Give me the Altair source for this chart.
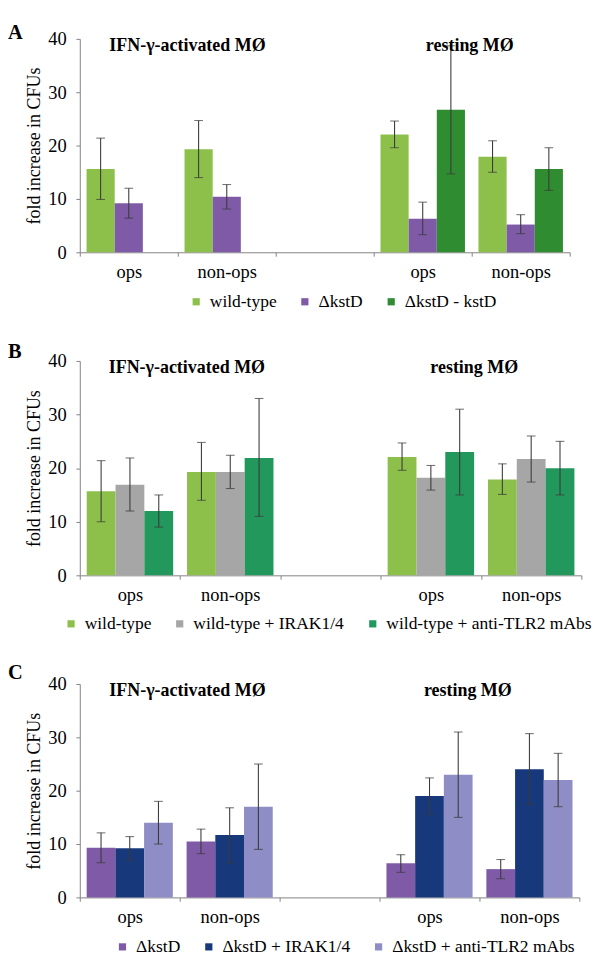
import altair as alt
import pandas as pd

FONT = "Liberation Serif"

# x slots (third one is an empty spacer between the two macrophage groups)
SLOTS = ["IFN|ops", "IFN|non-ops", "gap", "rest|ops", "rest|non-ops"]
DATA_SLOTS = ["IFN|ops", "IFN|non-ops", "rest|ops", "rest|non-ops"]
GROUP_TITLES = ["IFN-γ-activated MØ", "resting MØ"]

# ---------------- Panel A ----------------
A_SERIES = ["wild-type", "ΔkstD", "ΔkstD - kstD"]
A_COLORS = ["#8dc04b", "#7f5ba7", "#2f8c31"]
A_WT = [15.6, 19.3, 22.1, 17.9]
A_WT_LO = [9.9, 14.0, 19.6, 15.0]
A_WT_HI = [21.4, 24.7, 24.6, 20.9]
A_KO = [9.2, 10.4, 6.3, 5.2]
A_KO_LO = [6.4, 8.1, 3.3, 3.5]
A_KO_HI = [12.0, 12.7, 9.4, 7.05]
A_CO = [None, None, 26.7, 15.6]
A_CO_LO = [None, None, 14.7, 11.6]
A_CO_HI = [None, None, 38.7, 19.6]

# ---------------- Panel B ----------------
B_SERIES = ["wild-type", "wild-type + IRAK1/4", "wild-type + anti-TLR2 mAbs"]
B_COLORS = ["#8dc04b", "#a6a6a6", "#22985c"]
B_WT = [15.7, 19.3, 22.1, 17.9]
B_WT_LO = [10.0, 14.0, 19.6, 15.1]
B_WT_HI = [21.4, 24.8, 24.7, 20.8]
B_IR = [16.9, 19.3, 18.2, 21.7]
B_IR_LO = [12.0, 16.2, 15.9, 17.4]
B_IR_HI = [21.9, 22.4, 20.5, 26.0]
B_TL = [12.0, 21.9, 23.0, 20.0]
B_TL_LO = [9.0, 11.0, 15.0, 15.0]
B_TL_HI = [15.0, 33.0, 31.0, 25.0]

# ---------------- Panel C ----------------
C_SERIES = ["ΔkstD", "ΔkstD + IRAK1/4", "ΔkstD + anti-TLR2 mAbs"]
C_COLORS = ["#7f5ba7", "#17387a", "#8e8dc5"]
C_KO = [9.3, 10.5, 6.4, 5.3]
C_KO_LO = [6.5, 8.2, 4.7, 3.5]
C_KO_HI = [12.1, 12.8, 8.0, 7.1]
C_IR = [9.2, 11.7, 19.0, 24.0]
C_IR_LO = [7.0, 6.5, 15.6, 17.4]
C_IR_HI = [11.4, 16.8, 22.4, 30.7]
C_TL = [14.0, 17.0, 23.0, 22.0]
C_TL_LO = [10.0, 9.0, 15.0, 17.0]
C_TL_HI = [18.0, 25.0, 31.0, 27.0]

EC = "#3a3a3a"
AXC = "#808080"


def build_df(series, means, los, his):
    rows = []
    for s, m, l, h in zip(series, means, los, his):
        for slot, mv, lv, hv in zip(DATA_SLOTS, m, l, h):
            if mv is None:
                continue
            rows.append(dict(slot=slot, series=s, value=mv, lo=lv, hi=hv))
    return pd.DataFrame(rows)


def panel(letter, series, colors, means, los, his, width, height,
          legend_x, legend_y, dx1, dx2, letter_y):
    df = build_df(series, means, los, his)
    xs = alt.Scale(domain=SLOTS, paddingInner=0, paddingOuter=0)
    xaxis = alt.Axis(
        title=None,
        labelExpr="datum.value == 'gap' ? '' : split(datum.value, '|')[1]",
        tickBand="extent", labelAngle=0, tickSize=4, labelPadding=7,
        labelFont=FONT, labelFontSize=19, labelColor="black",
        domainColor=AXC, tickColor=AXC,
    )
    ys = alt.Scale(domain=[0, 40], nice=False)
    yaxis = alt.Axis(title="fold increase in CFUs", values=[0, 10, 20, 30, 40],
                     tickSize=4, labelPadding=10, titlePadding=5, grid=False,
                     labelFont=FONT, labelFontSize=19, labelColor="black",
                     titleFont=FONT, titleFontSize=18.5, titleFontWeight="normal",
                     titleColor="black", domainColor=AXC, tickColor=AXC)

    def X(**kw):
        return alt.X("slot:N", scale=xs, axis=xaxis, **kw)

    xo = alt.XOffset("series:N",
                     scale=alt.Scale(domain=series, paddingOuter=0.24, paddingInner=0))
    base = alt.Chart(df)
    bars = base.mark_bar().encode(
        x=X(), xOffset=xo,
        y=alt.Y("value:Q", scale=ys, axis=yaxis),
        color=alt.Color("series:N", scale=alt.Scale(domain=series, range=colors),
                        legend=alt.Legend(title=None, orient="none", legendX=legend_x,
                                          legendY=legend_y, direction="horizontal",
                                          labelFont=FONT, labelFontSize=18,
                                          labelColor="black", labelLimit=400,
                                          symbolType="square", symbolSize=55,
                                          symbolStrokeWidth=0, labelOffset=5,
                                          columnPadding=20)),
    )
    err = base.mark_rule(color=EC, strokeWidth=1.1).encode(
        x=X(), xOffset=xo, y=alt.Y("lo:Q", scale=ys, axis=yaxis), y2="hi:Q")
    cap_lo = base.mark_tick(color=EC, size=9, thickness=1.1).encode(
        x=X(), xOffset=xo, y=alt.Y("lo:Q", scale=ys, axis=yaxis))
    cap_hi = base.mark_tick(color=EC, size=9, thickness=1.1).encode(
        x=X(), xOffset=xo, y=alt.Y("hi:Q", scale=ys, axis=yaxis))

    def gtitle(slot, label, dx):
        return alt.Chart(pd.DataFrame({"slot": [slot], "label": [label]})).mark_text(
            font=FONT, fontSize=18.5, fontWeight="bold", baseline="alphabetic",
            align="center", dx=dx, dy=12, color="black",
        ).encode(x=X(bandPosition=0), y=alt.datum(40), text="label:N")

    t1 = gtitle(SLOTS[1], GROUP_TITLES[0], dx1)
    t2 = gtitle(SLOTS[4], GROUP_TITLES[1], dx2)
    let = alt.Chart(pd.DataFrame({"t": [letter]})).mark_text(
        font=FONT, fontSize=21, fontWeight="bold", align="left",
        baseline="alphabetic", color="black",
    ).encode(x=alt.value(-74), y=alt.value(letter_y), text="t:N")

    return alt.layer(bars, err, cap_lo, cap_hi, t1, t2, let).properties(
        width=width, height=height)


pa = panel("A", A_SERIES, A_COLORS,
           [A_WT, A_KO, A_CO], [A_WT_LO, A_KO_LO, A_CO_LO], [A_WT_HI, A_KO_HI, A_CO_HI],
           505, 220, 111, 262, 10, -2, 0)
pb = panel("B", B_SERIES, B_COLORS,
           [B_WT, B_IR, B_TL], [B_WT_LO, B_IR_LO, B_TL_LO], [B_WT_HI, B_IR_HI, B_TL_HI],
           517, 221, -18, 262, 7, -7, -3)
pc = panel("C", C_SERIES, C_COLORS,
           [C_KO, C_IR, C_TL], [C_KO_LO, C_IR_LO, C_TL_LO], [C_KO_HI, C_IR_HI, C_TL_HI],
           515, 220, 35, 262, 8, -12, -5)

chart = alt.vconcat(pa, pb, pc, spacing=112, bounds="flush").resolve_scale(
    color="independent", x="independent", y="independent", xOffset="independent"
).resolve_legend(color="independent").properties(padding=0).configure(
    font=FONT
).configure_view(
    stroke=None
).configure_axis(
    labelFont=FONT, titleFont=FONT,
).configure_legend(
    labelFont=FONT,
)

chart.save("out.html", embed_options={"renderer": "svg", "actions": False})
